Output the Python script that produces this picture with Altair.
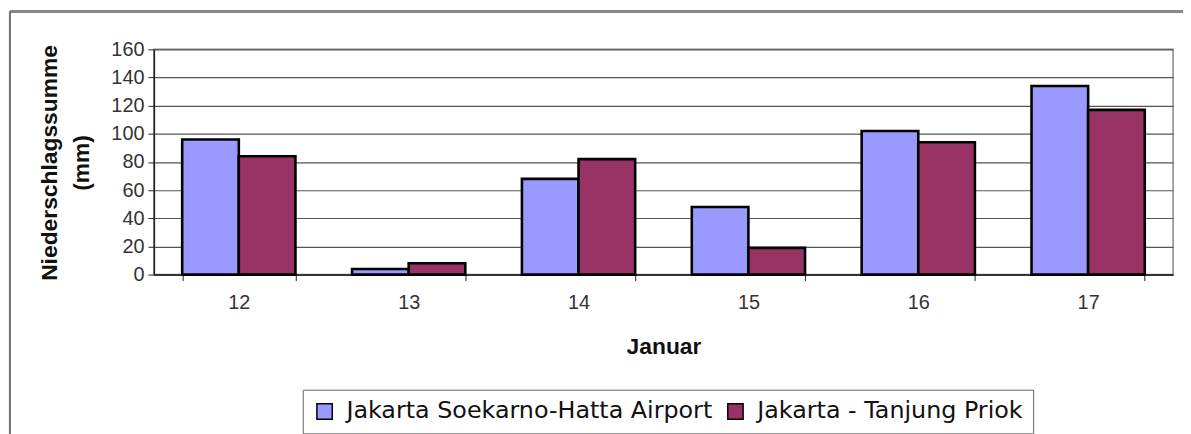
import altair as alt
import pandas as pd

days = ["12", "13", "14", "15", "16", "17"]
series = ["Jakarta Soekarno-Hatta Airport", "Jakarta - Tanjung Priok"]
airport = [96, 4, 68, 48, 102, 134]
priok = [84, 8, 82, 19, 94, 117]
colors = ["#9999FF", "#993366"]

rows = []
for i, d in enumerate(days):
    rows.append({"Tag": d, "Station": series[0], "Wert": airport[i]})
    rows.append({"Tag": d, "Station": series[1], "Wert": priok[i]})
df = pd.DataFrame(rows)

FONT = "Liberation Sans"

bars = alt.Chart(df).mark_bar(stroke="black", strokeWidth=2.6, cornerRadius=0).encode(
    x=alt.X("Tag:N", sort=days,
            scale=alt.Scale(paddingInner=1/3, paddingOuter=1/6),
            axis=alt.Axis(title="Januar", labelAngle=0, tickBand="extent",
                          labelFontSize=20, labelColor="#333333", labelFont=FONT,
                          labelPadding=12, tickSize=6, tickColor="#222222",
                          domainColor="#222222", domainWidth=1.5,
                          titleFontSize=23, titleFontWeight="bold", titleFont=FONT,
                          titleColor="#111111", titlePadding=24)),
    xOffset=alt.XOffset("Station:N", sort=series, scale=alt.Scale(paddingInner=0, paddingOuter=0)),
    y=alt.Y("Wert:Q", scale=alt.Scale(domain=[0, 160], nice=False),
            axis=alt.Axis(values=[0, 20, 40, 60, 80, 100, 120, 140, 160],
                          title=["Niederschlagssumme", "(mm)"],
                          titleFontSize=23, titleFontWeight="bold", titleFont=FONT,
                          titleColor="#111111", titleAngle=-90,
                          titleX=-105, titleY=114, titleAlign="center",
                          titleBaseline="middle", titleLineHeight=32,
                          labelFontSize=20, labelColor="#333333", labelFont=FONT,
                          labelPadding=4, tickSize=6, tickColor="#222222",
                          domainColor="#222222", domainWidth=1.5,
                          grid=True, gridColor="#555555", gridWidth=1.2)),
    color=alt.Color("Station:N", sort=series,
                    scale=alt.Scale(domain=series, range=colors),
                    legend=alt.Legend(title=None, orient="none", legendX=150, legendY=343,
                                      direction="horizontal", labelFontSize=24,
                                      labelFont="DejaVu Sans", labelColor="#111111",
                                      symbolType="square", symbolSize=240,
                                      symbolStrokeColor="black", symbolStrokeWidth=1.5,
                                      symbolOpacity=1, columnPadding=11, labelOffset=10,
                                      strokeColor="#666666", padding=10,
                                      fillColor="white", labelLimit=500)),
)

# outer frame of the original chart object (decoration)
frame_top = alt.Chart(df).mark_rule(color="#888888", strokeWidth=2).encode(
    x=alt.value(-145), x2=alt.value(1040), y=alt.value(-38))
frame_left = alt.Chart(df).mark_rule(color="#777777", strokeWidth=2).encode(
    x=alt.value(-145), y=alt.value(-38), y2=alt.value(390))

chart = alt.layer(frame_top, frame_left, bars).properties(
    width=1027, height=227,
    autosize=alt.AutoSizeParams(type="none"),
    padding={"left": 147, "top": 40, "right": 10, "bottom": 160},
    background="white",
).configure_view(stroke="#888888", strokeWidth=1.5)

chart.save("out.html", embed_options={"renderer": "svg", "actions": False})
